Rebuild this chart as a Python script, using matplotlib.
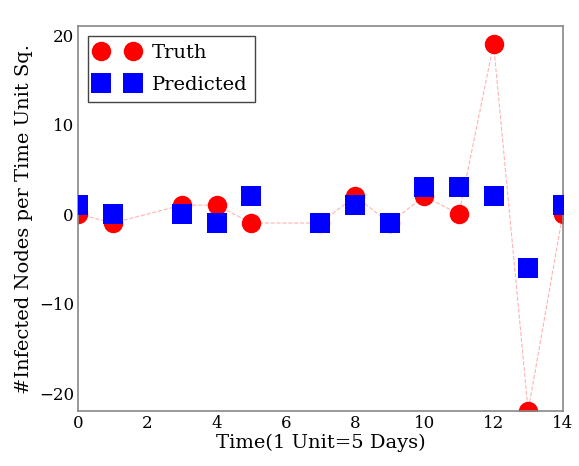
import matplotlib
matplotlib.use("Agg")
import matplotlib.pyplot as plt

# time steps (1 unit = 5 days)
t = [0, 1, 3, 4, 5, 7, 8, 9, 10, 11, 12, 13, 14]
truth = [0, -1, 1, 1, -1, -1, 2, -1, 2, 0, 19, -22, 0]
predicted = [1, 0, 0, -1, 2, -1, 1, -1, 3, 3, 2, -6, 1]

plt.rcParams['font.family'] = ['DejaVu Serif']

fig = plt.figure(figsize=(5.79, 4.66), dpi=100)
ax = fig.add_axes([0.135, 0.118, 0.837, 0.826])

ax.plot(t, truth, 'r--', lw=0.8, alpha=0.3, zorder=1)
ax.plot(t, truth, 'o', color='red', ms=14, mec='red', mew=0, label='Truth', zorder=2)
ax.plot(t, predicted, 's', color='blue', ms=14, mec='blue', mew=0, label='Predicted', zorder=3)

ax.set_xlim(0, 14)
ax.set_ylim(-22, 21)
ax.set_xticks([0, 2, 4, 6, 8, 10, 12, 14])
ax.set_yticks([-20, -10, 0, 10, 20])
ax.tick_params(length=0, labelsize=12, pad=3)
for s in ax.spines.values():
    s.set_color('#888888')
    s.set_linewidth(1.2)

ax.set_xlabel('Time(1 Unit=5 Days)', fontsize=14, labelpad=1)
ax.set_ylabel('#Infected Nodes per Time Unit Sq.', fontsize=14, labelpad=4)

leg = ax.legend(loc='upper left', numpoints=2, fontsize=14, fancybox=False,
                framealpha=1, borderaxespad=0.5, handletextpad=0.7,
                labelspacing=0.75, handlelength=2.2)
leg.get_frame().set_edgecolor('#444444')

fig.savefig('out.png', dpi=100)
